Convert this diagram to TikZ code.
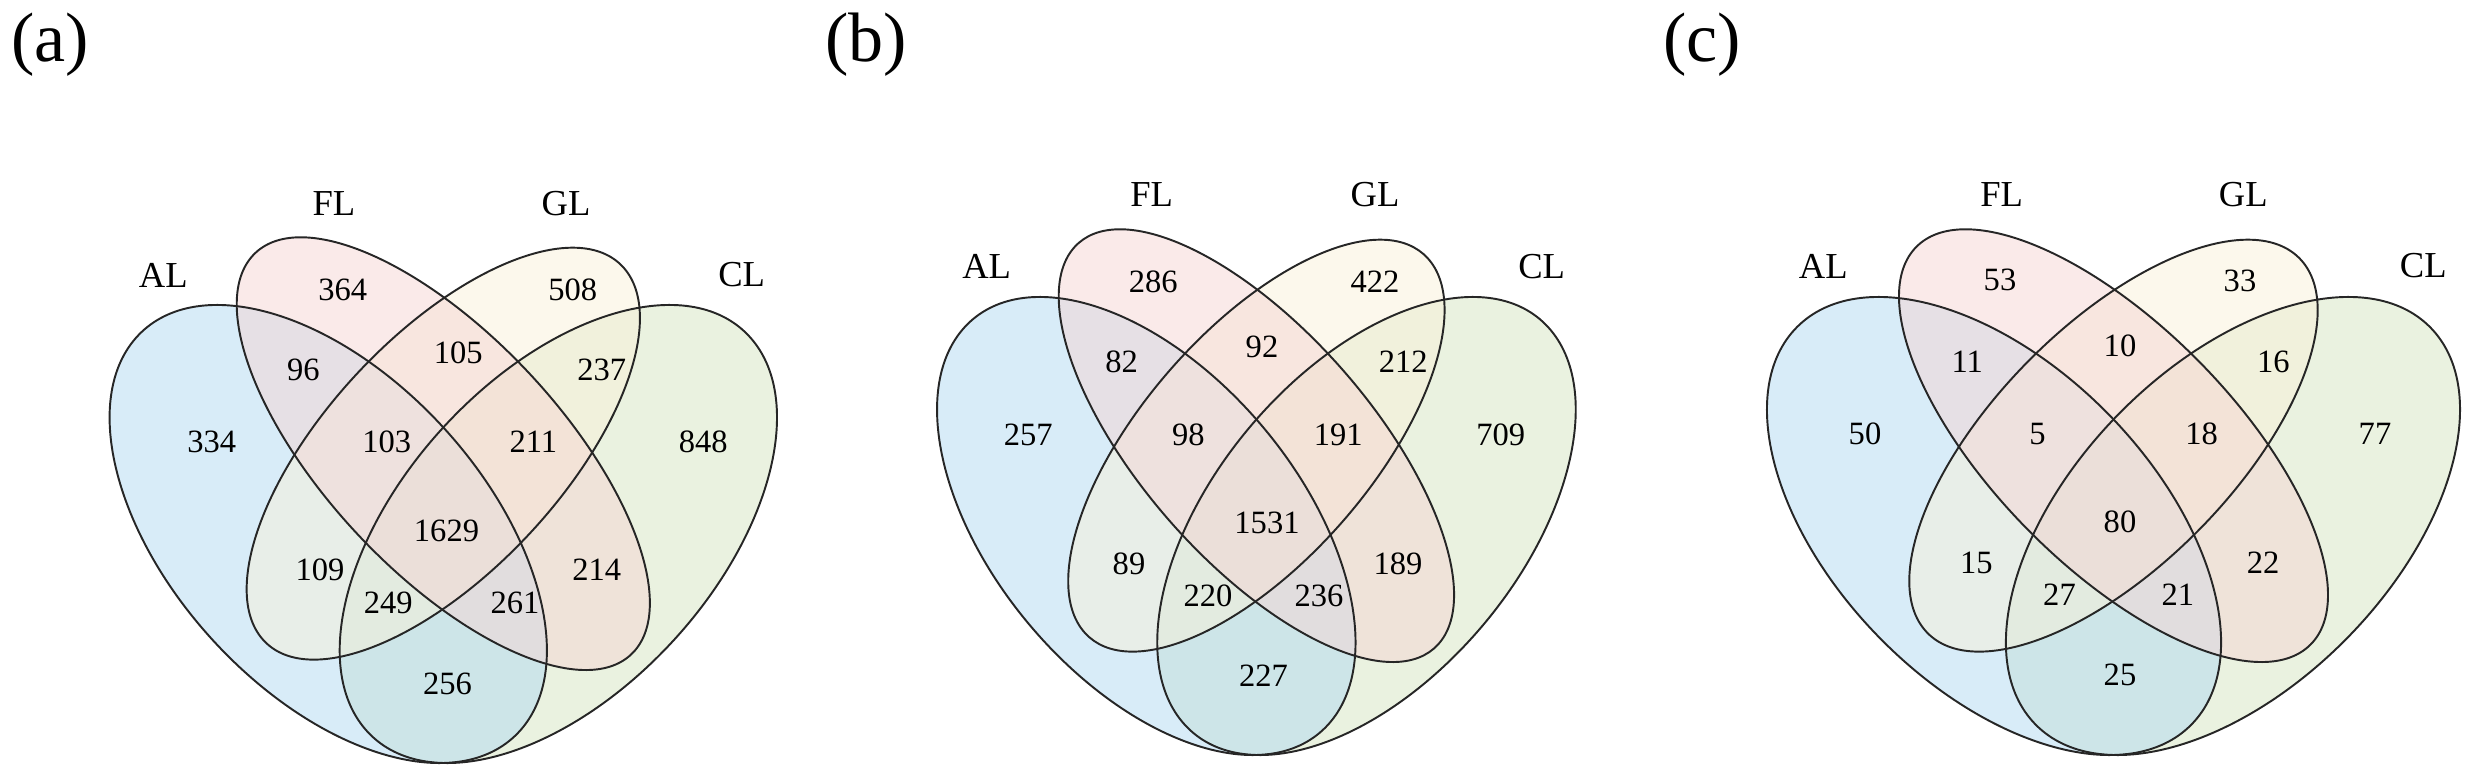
\documentclass[tikz,border=0pt]{standalone}
\usepackage{fontspec}
\setmainfont{Liberation Serif}
\definecolor{cAL}{RGB}{177,217,241}
\definecolor{cFL}{RGB}{245,213,211}
\definecolor{cGL}{RGB}{249,241,217}
\definecolor{cCL}{RGB}{213,229,193}
\newcommand\vennpanel[3]{%
  \begin{scope}[shift={(#1,#2)}, xscale=#3, yscale=8.034]
    \fill[cCL, fill opacity=0.5, rotate around={45:(15,0)}] (15,0) ellipse (35 and 20);
    \fill[cAL, fill opacity=0.5, rotate around={135:(-15,0)}] (-15,0) ellipse (35 and 20);
    \fill[cGL, fill opacity=0.5, rotate around={45:(0,10)}] (0,10) ellipse (33 and 15);
    \fill[cFL, fill opacity=0.5, rotate around={135:(0,10)}] (0,10) ellipse (35 and 15);
    \draw[vline, rotate around={45:(15,0)}] (15,0) ellipse (35 and 20);
    \draw[vline, rotate around={135:(-15,0)}] (-15,0) ellipse (35 and 20);
    \draw[vline, rotate around={45:(0,10)}] (0,10) ellipse (33 and 15);
    \draw[vline, rotate around={135:(0,10)}] (0,10) ellipse (35 and 15);
  \end{scope}}
\begin{document}
\begin{tikzpicture}[x=0.01cm, y=0.01cm,
  vline/.style={draw=black!85, line width=0.55pt},
  num/.style={font=\fontsize{9.25}{10}\selectfont, inner sep=0pt},
  cat/.style={font=\fontsize{10.4}{12}\selectfont, inner sep=0pt},
  tag/.style={font=\fontsize{19.9}{22}\selectfont, inner sep=0pt}]
\useasboundingbox (0,0) rectangle (2477,778);

% shapes
\vennpanel{443.3}{244}{7.67}
\vennpanel{1256.4}{252}{7.34}
\vennpanel{2113.5}{252}{7.965}

% ---------- panel (a)
\node[tag] (ta) at (50,733) {(a)};
\node[cat] (aAL) at (163.3,503) {AL};
\node[cat] (aFL) at (334,574.5) {FL};
\node[cat] (aGL) at (566,574.5) {GL};
\node[cat] (aCL) at (741.7,503) {CL};
\node[num] (a1) at (342.7,488) {364};
\node[num] (a2) at (572.7,488) {508};
\node[num] (a3) at (458.3,424.7) {105};
\node[num] (a4) at (303.3,408) {96};
\node[num] (a5) at (601.7,408) {237};
\node[num] (a6) at (211.7,336.3) {334};
\node[num] (a7) at (386.7,336.3) {103};
\node[num] (a8) at (533.3,336.3) {211};
\node[num] (a9) at (703.3,336.3) {848};
\node[num] (a10) at (446.5,247.5) {1629};
\node[num] (a11) at (320,208.3) {109};
\node[num] (a12) at (596.7,208.3) {214};
\node[num] (a13) at (388.3,175) {249};
\node[num] (a14) at (515,175) {261};
\node[num] (a15) at (447.5,94) {256};

% ---------- panel (b)
\node[tag] (tb) at (866,733) {(b)};
\node[cat] (bAL) at (986.7,511.5) {AL};
\node[cat] (bFL) at (1151.7,583) {FL};
\node[cat] (bGL) at (1375,583) {GL};
\node[cat] (bCL) at (1541.7,511.5) {CL};
\node[num] (b1) at (1153.3,496.3) {286};
\node[num] (b2) at (1375,496.3) {422};
\node[num] (b3) at (1262,431) {92};
\node[num] (b4) at (1121.7,416.3) {82};
\node[num] (b5) at (1403.3,416.3) {212};
\node[num] (b6) at (1028.3,343) {257};
\node[num] (b7) at (1188.3,343) {98};
\node[num] (b8) at (1338.3,343) {191};
\node[num] (b9) at (1500.7,343) {709};
\node[num] (b10) at (1267,255.5) {1531};
\node[num] (b11) at (1129,214.5) {89};
\node[num] (b12) at (1398,214.5) {189};
\node[num] (b13) at (1208,182) {220};
\node[num] (b14) at (1319,182) {236};
\node[num] (b15) at (1263.5,102) {227};

% ---------- panel (c)
\node[tag] (tc) at (1702,733) {(c)};
\node[cat] (cAL) at (1823.3,512) {AL};
\node[cat] (cFL) at (2001.7,583) {FL};
\node[cat] (cGL) at (2243.3,583) {GL};
\node[cat] (cCL) at (2423.3,512) {CL};
\node[num] (c1) at (2000,498) {53};
\node[num] (c2) at (2240,497.5) {33};
\node[num] (c3) at (2120,432) {10};
\node[num] (c4) at (1967.3,416.3) {11};
\node[num] (c5) at (2273.3,416.3) {16};
\node[num] (c6) at (1865,344.5) {50};
\node[num] (c7) at (2037.5,343.5) {5};
\node[num] (c8) at (2201.7,344.5) {18};
\node[num] (c9) at (2375,344.5) {77};
\node[num] (c10) at (2120,256.4) {80};
\node[num] (c11) at (1976.3,215.3) {15};
\node[num] (c12) at (2263.2,215.3) {22};
\node[num] (c13) at (2059.5,183) {27};
\node[num] (c14) at (2177.9,183) {21};
\node[num] (c15) at (2120,102.7) {25};
\end{tikzpicture}
\end{document}
